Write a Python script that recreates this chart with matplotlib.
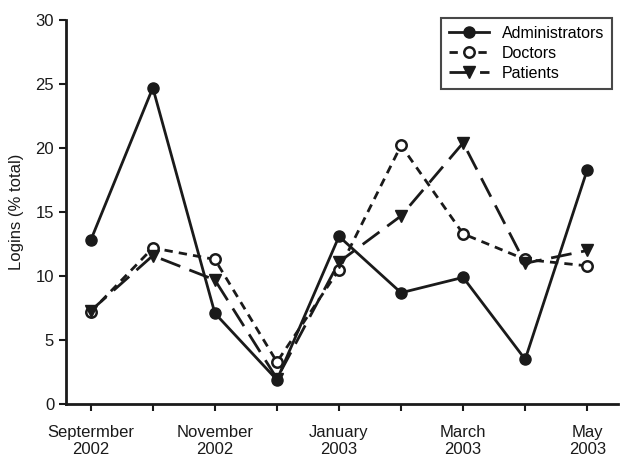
import matplotlib
matplotlib.use("Agg")
import matplotlib.pyplot as plt

months = ["Sep 2002", "Oct 2002", "Nov 2002", "Dec 2002", "Jan 2003",
          "Feb 2003", "Mar 2003", "Apr 2003", "May 2003"]
tick_labels = ["Septermber\n2002", "", "November\n2002", "", "January\n2003",
               "", "March\n2003", "", "May\n2003"]
administrators = [12.8, 24.7, 7.1, 1.9, 13.1, 8.7, 9.9, 3.5, 18.3]
doctors = [7.2, 12.2, 11.3, 3.3, 10.5, 20.2, 13.3, 11.3, 10.8]
patients = [7.3, 11.6, 9.7, 2.0, 11.1, 14.7, 20.4, 11.0, 12.0]

plt.rcParams['font.family'] = ['Liberation Sans', 'DejaVu Sans']

fig = plt.figure(figsize=(6.22, 4.63), dpi=100)
ax = fig.add_axes([0.106, 0.127, 0.888, 0.830])

x = list(range(len(months)))
ax.plot(x, administrators, color='#1a1a1a', lw=2, ls='-', marker='o',
        ms=8, mfc='#1a1a1a', mec='#1a1a1a', label='Administrators', zorder=3)
ax.plot(x, doctors, color='#1a1a1a', lw=2, ls=(0, (3, 2.2)), marker='o',
        ms=7.5, mfc='white', mec='#1a1a1a', mew=1.8, label='Doctors', zorder=4)
ax.plot(x, patients, color='#1a1a1a', lw=2, ls=(0, (7.5, 3.5)), marker='v',
        ms=9, mfc='#1a1a1a', mec='#1a1a1a', label='Patients', zorder=5)

ax.set_xlim(-0.4, 8.5)
ax.set_ylim(0, 30)
ax.set_xticks(x)
ax.set_xticklabels(tick_labels, fontsize=12, color='#1a1a1a')
ax.set_yticks([0, 5, 10, 15, 20, 25, 30])
ax.tick_params(axis='both', direction='out', length=5, width=1.5,
               colors='#1a1a1a', labelsize=12)
ax.tick_params(axis='x', pad=10)
for s in ['top', 'right']:
    ax.spines[s].set_visible(False)
for s in ['left', 'bottom']:
    ax.spines[s].set_linewidth(2)
    ax.spines[s].set_color('#1a1a1a')
ax.set_ylabel('Logins (% total)', fontsize=12, color='#1a1a1a', labelpad=8)

leg = ax.legend(loc='upper right', bbox_to_anchor=(0.989, 1.005), fontsize=11.5,
                frameon=True, fancybox=False, edgecolor='#1a1a1a',
                handlelength=2.5, handletextpad=0.8, borderpad=0.5,
                labelspacing=0.3, borderaxespad=0)
leg.get_frame().set_linewidth(1.5)

fig.savefig('out.png', dpi=100)
